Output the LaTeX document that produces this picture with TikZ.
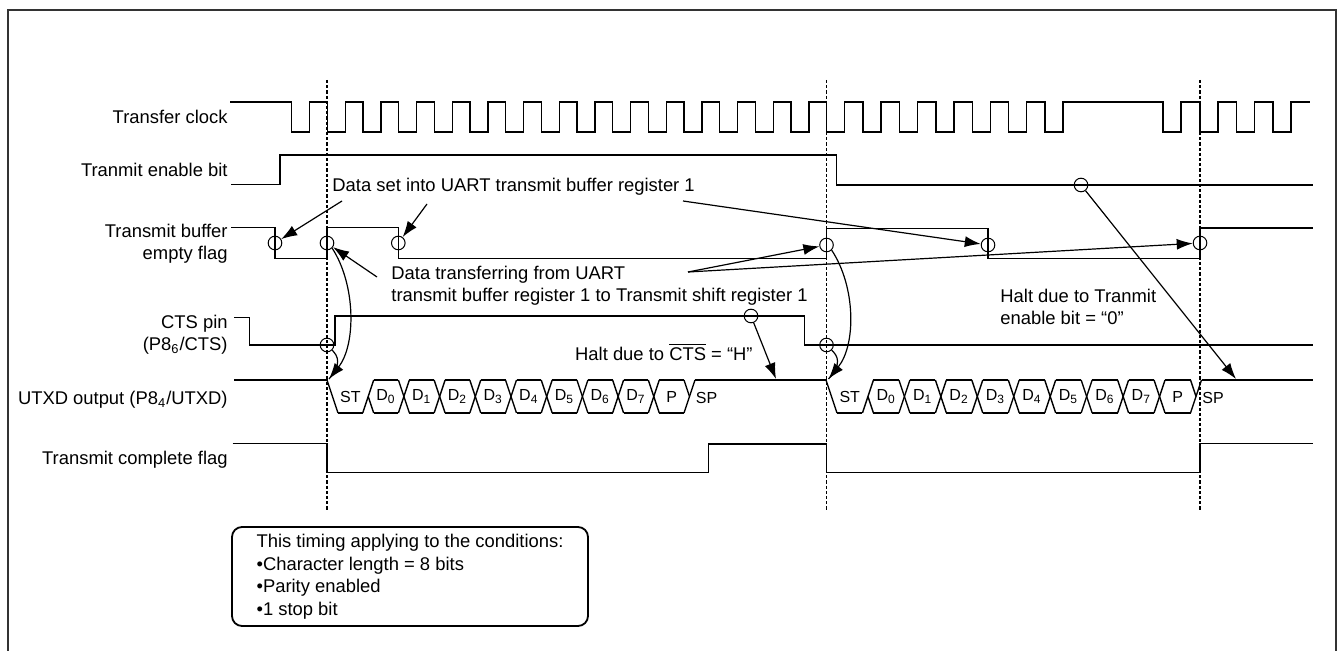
\documentclass[tikz,border=0pt]{standalone}
\usepackage{fontspec}
\setmainfont{Liberation Sans}
\usetikzlibrary{positioning,arrows.meta}

\newcommand{\sigfont}{\fontsize{9.2pt}{11pt}\selectfont}
\newcommand{\bitfont}{\fontsize{8pt}{9pt}\selectfont}

\tikzset{
  sig/.style={line width=0.7pt},
  guide/.style={line width=0.8pt, dash pattern=on 1.6pt off 1pt},
  ring/.style={draw, circle, minimum size=6.8pt, inner sep=0pt, line width=0.5pt},
  arr/.style={-{Latex[length=8pt,width=5.5pt]}, line width=0.6pt},
  siglabel/.style={anchor=east, align=right, inner sep=0pt, font=\sigfont},
  note/.style={inner sep=0pt, font=\sigfont},
  bitlabel/.style={inner sep=0pt, font=\bitfont},
  notebox/.style={draw, rounded corners=5pt, line width=0.9pt, align=left,
    minimum width=178pt, minimum height=49.5pt, inner sep=0pt,
    font=\fontsize{9.2pt}{11.25pt}\selectfont},
}

% one UART character on UTXD: #1 = first bit edge, #2 = bit width
\newcommand{\uartframe}[2]{%
  \foreach \lab [count=\i from 0] in {ST,D\textsubscript{0},D\textsubscript{1},D\textsubscript{2},D\textsubscript{3},D\textsubscript{4},D\textsubscript{5},D\textsubscript{6},D\textsubscript{7},P}
    \node[bitlabel] at ({#1+(\i+0.5)*#2},396.5) {\lab};
  \foreach \i in {0,...,9}
    \draw[sig] ({#1+\i*#2+5.5},413) -- ({#1+(\i+1)*#2-5.5},413);
  \foreach \i in {1,...,9}
    \draw[sig] ({#1+\i*#2+5.5},380) -- ({#1+(\i+1)*#2-5.5},380);
  \foreach \i in {2,...,9} {
    \draw[sig] ({#1+\i*#2-5.5},380) -- ({#1+\i*#2+5.5},413);
    \draw[sig] ({#1+\i*#2-5.5},413) -- ({#1+\i*#2+5.5},380);
  }
  \draw[sig] ({#1-5.5},380) -- ({#1+5.5},413);
  \draw[sig] ({#1+#2-5.5},413) -- ({#1+#2+5.5},380);
  \draw[sig] ({#1+#2},396.5) -- ({#1+#2+5.5},413);
  \draw[sig] ({#1+10*#2-5.5},380) -- ({#1+10*#2},396.5);
  \draw[sig] ({#1+10*#2-5.5},413) -- ({#1+10*#2+5.5},380);
  \node[bitlabel] at ({#1+10*#2+17},398) {SP};
}

\begin{document}
\begin{tikzpicture}[x=0.5pt,y=-0.5pt]
  \useasboundingbox (0,0) rectangle (1339,651);
  \draw[line width=1pt, black!80] (8,652) -- (8,10) -- (1336,10) -- (1336,652);

  % --- Signal names ---
  \node[siglabel] (clk) at (228,117) {Transfer clock};
  \node[siglabel] (ten) at (228,169.5) {Tranmit enable bit};
  \node[siglabel] (tbe) at (228,243.5) {Transmit buffer\\empty flag};
  \node[siglabel] (cts) at (228,335) {CTS pin\\(P8\textsubscript{6}/CTS)};
  \node[siglabel] (utxd) at (228,400) {UTXD output (P8\textsubscript{4}/UTXD)};
  \node[siglabel] (tc) at (228,460) {Transmit complete flag};

  % --- Guides ---
  \draw[guide] (327,80) -- (327,510);
  \draw[guide] (826.5,80) -- (826.5,510);
  \draw[guide] (1200,80) -- (1200,510);

  % --- Waveforms ---
  \draw[sig] (230,102)
    \foreach \k in {0,...,14} { -- ({291.7+35.67*\k},102) -- ++(0,30) -- ++(18,0) -- ++(0,-30) }
    \foreach \k in {0,...,6} { -- ({826.7+36.4*\k},102) -- ++(0,30) -- ++(18,0) -- ++(0,-30) }
    -- (1163,102) -- ++(0,30) -- ++(18,0) -- ++(0,-30)
    \foreach \k in {0,...,2} { -- ({1200+36.4*\k},102) -- ++(0,30) -- ++(18,0) -- ++(0,-30) }
    -- (1310,102);
  \draw[sig] (231,184.5) -- (280,184.5) -- (280,155) -- (836.5,155) -- (836.5,185) -- (1313,185);
  \draw[sig] (231,227.5) -- (275,227.5) -- (275,258.5) -- (327,258.5) -- (327,227.5)
    -- (398.3,227.5) -- (398.3,258.5) -- (826.5,258.5) -- (826.5,228.5) -- (988,228.5)
    -- (988,258.5) -- (1200,258.5) -- (1200,228) -- (1313,228);
  \draw[sig] (234,317.5) -- (249.3,317.5) -- (249.3,345) -- (335,345) -- (335,316)
    -- (804.3,316) -- (804.3,345) -- (1313,345);
  \draw[sig] (234,380) -- (327,380);
  \uartframe{332.5}{35.7}
  \draw[sig] (695,380) -- (826.5,380);
  \uartframe{831.5}{36.45}
  \draw[sig] (1201.5,380) -- (1313,380);
  \draw[sig] (232.7,443.5) -- (327,443.5) -- (327,472.5) -- (708.3,472.5) -- (708.3,444)
    -- (826.5,444) -- (826.5,472.5) -- (1200,472.5) -- (1200,443.5) -- (1313,443.5);

  % --- Markers ---
  \node[ring] (tbA) at (275,243) {};
  \node[ring] (tbB) at (327,243) {};
  \node[ring] (tbC) at (398.3,243) {};
  \node[ring] (tbD) at (826.5,245) {};
  \node[ring] (tbE) at (988,245) {};
  \node[ring] (tbF) at (1200,243) {};
  \node[ring] (ctsA) at (327,345) {};
  \node[ring] (ctsB) at (751,316) {};
  \node[ring] (ctsC) at (826.5,345) {};
  \node[ring] (tenA) at (1081,185) {};

  % --- Notes ---
  \node[note, anchor=west] (setnote) at (332,187) {Data set into UART transmit buffer register 1};
  \node[note, anchor=west, align=left] (xfernote) at (391,286)
    {Data transferring from UART\\transmit buffer register 1 to Transmit shift register 1};
  \node[note, anchor=east] (ctsnote) at (753,352) {Halt due to $\overline{\mbox{CTS}}$ = “H”};
  \node[note, anchor=west, align=left] (tennote) at (1000,307) {Halt due to Tranmit\\enable bit = “0”};
  \node[notebox] (cond) at (410,576.5) {This timing applying to the conditions:\\•Character length = 8 bits\\•Parity enabled\\•1 stop bit};

  % --- Arrows ---
  \coordinate (setA) at (342,201);
  \coordinate (setB) at (427,204);
  \coordinate (setC) at (683,201);
  \draw[arr] (setA) -- (tbA);
  \draw[arr] (setB) -- (tbC);
  \draw[arr] (setC) -- (tbE);
  \coordinate (xferA) at (377,277);
  \coordinate (xferB) at (688,272);
  \draw[arr] (xferA) -- (tbB);
  \draw[arr] (xferB) -- (tbD);
  \draw[arr] (xferB) -- (tbF);
  \coordinate (stA) at (329,379);
  \coordinate (stB) at (828.5,379);
  \draw[arr] (tbB.south east) .. controls (356,285) and (356,345) .. (stA);
  \draw[line width=0.6pt] (ctsA.south east) .. controls (338,356) and (342,364) .. (stA);
  \draw[arr] (tbD.south east) .. controls (856,287) and (856,345) .. (stB);
  \draw[line width=0.6pt] (ctsC.south east) .. controls (838,356) and (842,364) .. (stB);
  \coordinate (haltA) at (776,379);
  \coordinate (haltB) at (1236,379);
  \draw[arr] (ctsB) -- (haltA);
  \draw[arr] (tenA) -- (haltB);
\end{tikzpicture}
\end{document}
